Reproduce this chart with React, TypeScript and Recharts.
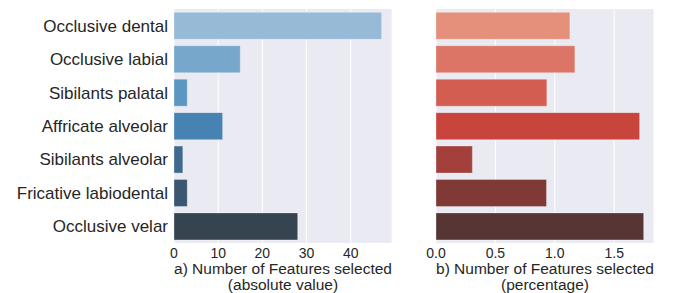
import { Bar, BarChart, CartesianGrid, Cell, XAxis, YAxis } from "recharts";

const categories = [
  "Occlusive dental",
  "Occlusive labial",
  "Sibilants palatal",
  "Affricate alveolar",
  "Sibilants alveolar",
  "Fricative labiodental",
  "Occlusive velar",
];
const absoluteValues = [47, 15, 3, 11, 2, 3, 28];
const percentValues = [1.127, 1.169, 0.933, 1.714, 0.306, 0.93, 1.748];
const absTicks = [0, 10, 20, 30, 40];
const pctTicks = [0, 0.5, 1, 1.5];
const blues = ["#97bad7", "#77a7cb", "#5c97c1", "#4683b2", "#3e6a8e", "#3b5670", "#35444f"];
const reds = ["#e4907b", "#dc7565", "#d35d50", "#c8443d", "#a4403c", "#7f3a36", "#573535"];

const FONT = "'Liberation Sans', Arial, sans-serif";
const INK = "#262626";
const BG = "#eaeaf2";

const absData = categories.map((c, i) => ({ name: c, v: absoluteValues[i] }));
const pctData = categories.map((c, i) => ({ name: c, v: percentValues[i] }));

// two-line axis title under the ticks
const twoLine = (a: string, b: string) => (props: any) => {
  const vb = props.viewBox;
  const cx = vb.x + vb.width / 2;
  return (
    <text x={cx} textAnchor="middle" fill={INK} fontSize={15.5} fontFamily={FONT}>
      <tspan x={cx} y={vb.y + 31}>{a}</tspan>
      <tspan x={cx} y={vb.y + 47}>{b}</tspan>
    </text>
  );
};

export default function App() {
  return (
    <div style={{ position: "absolute", left: 0, top: 0, width: 675, height: 293, background: "#fff", fontFamily: FONT }}>
      <div style={{ position: "absolute", left: 0, top: 0 }}>
        <BarChart
          width={400}
          height={293}
          data={absData}
          layout="vertical"
          barCategoryGap="10%"
          margin={{ top: 9, right: 8, left: 0, bottom: 0 }}
        >
          <CartesianGrid fill={BG} stroke="#ffffff" strokeWidth={1} horizontal={false} />
          <XAxis
            type="number"
            domain={[0, 49.35]}
            ticks={absTicks}
            height={50}
            axisLine={false}
            tickLine={false}
            tickSize={0}
            tickMargin={5}
            tick={{ fill: INK, fontSize: 14, fontFamily: FONT }}
            label={{ content: twoLine("a) Number of Features selected", "(absolute value)") }}
          />
          <YAxis
            type="category"
            dataKey="name"
            width={174}
            axisLine={false}
            tickLine={false}
            tickSize={0}
            tickMargin={6}
            tick={{ fill: INK, fontSize: 17, fontFamily: FONT }}
          />
          <Bar dataKey="v" isAnimationActive={false} stroke="rgba(255,255,255,0.3)" strokeWidth={1}>
            {absData.map((d, i) => (
              <Cell key={d.name} fill={blues[i]} />
            ))}
          </Bar>
        </BarChart>
      </div>
      <div style={{ position: "absolute", left: 400, top: 0 }}>
        <BarChart
          width={275}
          height={293}
          data={pctData}
          layout="vertical"
          barCategoryGap="10%"
          margin={{ top: 9, right: 21, left: 36, bottom: 0 }}
        >
          <CartesianGrid fill={BG} stroke="#ffffff" strokeWidth={1} horizontal={false} />
          <XAxis
            type="number"
            domain={[0, 1.835]}
            ticks={pctTicks}
            tickFormatter={(v) => Number(v).toFixed(1)}
            height={50}
            axisLine={false}
            tickLine={false}
            tickSize={0}
            tickMargin={5}
            tick={{ fill: INK, fontSize: 14, fontFamily: FONT }}
            label={{ content: twoLine("b) Number of Features selected", "(percentage)") }}
          />
          <YAxis type="category" dataKey="name" hide />
          <Bar dataKey="v" isAnimationActive={false} stroke="rgba(255,255,255,0.3)" strokeWidth={1}>
            {pctData.map((d, i) => (
              <Cell key={d.name} fill={reds[i]} />
            ))}
          </Bar>
        </BarChart>
      </div>
    </div>
  );
}
